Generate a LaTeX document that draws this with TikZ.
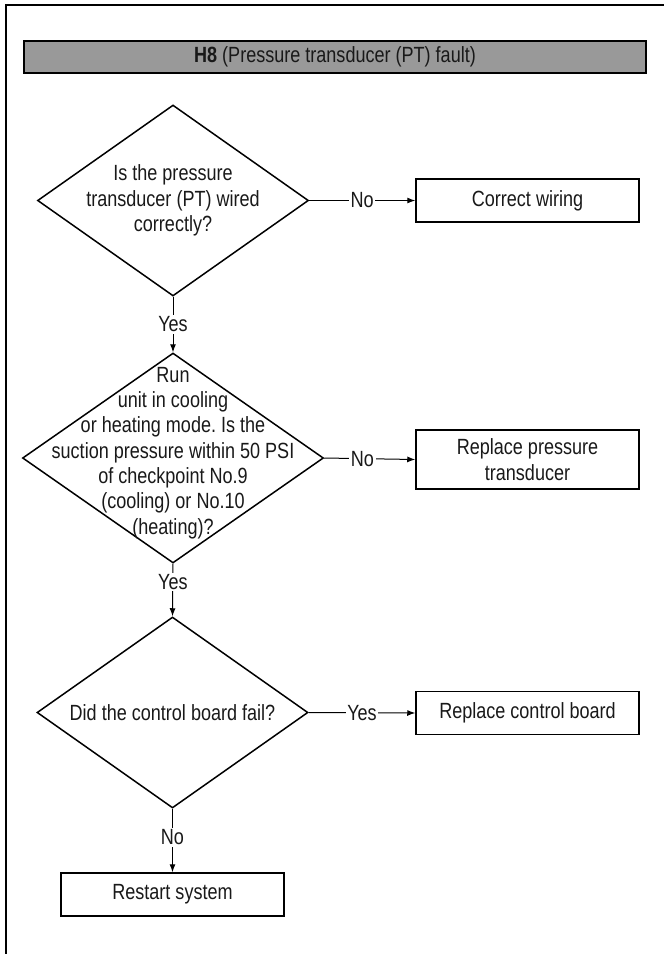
\documentclass[tikz,border=0pt]{standalone}
\usepackage{fontspec}
\setmainfont{Liberation Sans}[FakeStretch=0.82]
\usetikzlibrary{shapes.geometric,arrows.meta}
\definecolor{hdrgray}{RGB}{153,153,153}
\definecolor{txt}{RGB}{25,25,25}
\frenchspacing
\begin{document}
\begin{tikzpicture}[x=1pt,y=-1pt,
  every node/.style={font=\fontsize{22}{25.3}\selectfont, text=txt},
  decision/.style={draw, diamond, line width=1.5pt, inner sep=0pt},
  action/.style={draw, rectangle, line width=1.5pt, inner sep=0pt, minimum width=223pt, align=center},
  conn/.style={line width=1pt, -{Latex[length=8pt,width=6pt]}},
  lbl/.style={fill=white, inner sep=1.5pt},
  frame/.style={line width=1.4pt}
]
\useasboundingbox (0,0) rectangle (665,954);
% frame
\coordinate (fbl) at (6,954);
\coordinate (ftl) at (6,5);
\coordinate (ftr) at (664,5);
\draw[frame] (fbl) -- (ftl) -- (ftr);
% header
\node[draw, fill=hdrgray, line width=1.3pt, minimum width=622pt, minimum height=32pt, inner sep=0pt] (hdr) at (335,57) {\textbf{H8} (Pressure transducer (PT) fault)};
% decisions
\node[decision, minimum width=271pt, minimum height=191pt] (d1) at (173,200.5) {};
\node[align=center] (t1) at (173,200.5) {Is the pressure\\transducer (PT) wired\\correctly?};
\node[decision, minimum width=301pt, minimum height=210pt] (d2) at (173,458) {};
\node[align=center] (t2) at (173,453) {Run\\unit in cooling\\or heating mode. Is the\\suction pressure within 50 PSI\\of checkpoint No.9\\(cooling) or No.10\\(heating)?};
\node[decision, minimum width=271pt, minimum height=191pt] (d3) at (172.5,712.5) {};
\node[align=center] (t3) at (172.5,712.5) {Did the control board fail?};
% actions
\node[action, minimum height=43pt] (b1) at (527.5,200.5) {Correct wiring};
\node[action, minimum height=59pt, font=\fontsize{22}{26.5}\selectfont] (b2) at (527.5,459.5) {Replace pressure\\transducer};
\node[action, minimum height=43pt] (b3) at (527.5,713) {Replace control board};
\node[action, minimum height=43pt] (b4) at (172.5,894.5) {Restart system};
% connectors
\draw[conn] (d1.east) -- node[lbl] {No} (b1.west);
\draw[conn] (d1.south) -- node[lbl] {Yes} (d2.north);
\draw[conn] (d2.east) -- node[lbl, pos=0.42] {No} (b2.west);
\draw[conn] (d2.south) -- node[lbl, pos=0.35] {Yes} (d3.north);
\draw[conn] (d3.east) -- node[lbl] {Yes} (b3.west);
\draw[conn] (d3.south) -- node[lbl, pos=0.45] {No} (b4.north);
\end{tikzpicture}
\end{document}
